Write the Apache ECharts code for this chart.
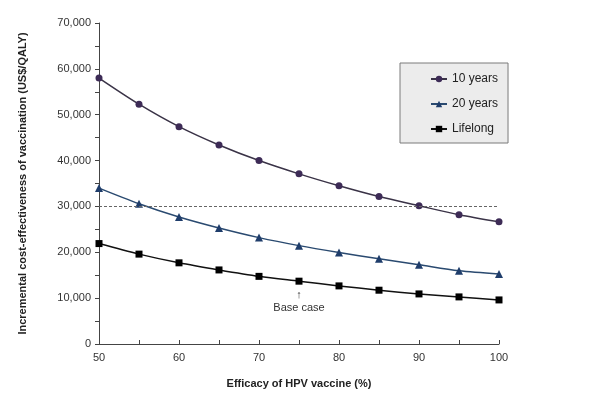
<!DOCTYPE html>
<html>
<head>
<meta charset="utf-8">
<script src="https://cdn.jsdelivr.net/npm/echarts@6/dist/echarts.min.js"></script>
<style>html,body{margin:0;padding:0;background:#fff}#c{width:600px;height:401px}</style>
</head>
<body>
<div id="c"></div>
<script>
var efficacy = [50, 55, 60, 65, 70, 75, 80, 85, 90, 95, 100];
var tenYears = [58000, 52300, 47400, 43400, 40000, 37100, 34500, 32150, 30150, 28200, 26650];
var twentyYears = [34000, 30600, 27700, 25300, 23200, 21450, 19950, 18570, 17260, 15950, 15280];
var lifelong = [21900, 19600, 17700, 16150, 14750, 13700, 12670, 11730, 10920, 10270, 9610];
var thresholdValue = 30000;
var baseCaseX = 75;

function pairs(ys){ return efficacy.map(function(x,i){ return [x, ys[i]]; }); }
var F = 'Liberation Sans, Arial, sans-serif';
var chart = echarts.init(document.getElementById('c'), null, {renderer:'canvas'});
chart.setOption({
  animation:false,
  backgroundColor:'#fff',
  grid:{left:99, right:101, top:23, bottom:57},
  legend:{
    orient:'vertical', left:400, top:63, width:105, height:78,
    padding:[10,10,8,30], itemGap:13, itemWidth:16, itemHeight:8,
    backgroundColor:'#ececec', borderColor:'#7a7a7a', borderWidth:1,
    textStyle:{fontFamily:F, fontSize:12, color:'#222'},
    data:['10 years','20 years','Lifelong']
  },
  xAxis:{
    type:'value', min:50, max:100, interval:5,
    name:'Efficacy of HPV vaccine (%)', nameLocation:'middle', nameGap:34,
    nameTextStyle:{fontFamily:F, fontSize:11, fontWeight:'bold', color:'#222'},
    axisLine:{lineStyle:{color:'#444', width:1}},
    axisTick:{inside:true, length:4, lineStyle:{color:'#444'}},
    axisLabel:{fontFamily:F, fontSize:11, color:'#333', margin:8,
      formatter:function(v){ return v % 10 === 0 ? String(v) : ''; }},
    splitLine:{show:false}
  },
  yAxis:{
    type:'value', min:0, max:70000, interval:5000,
    name:'Incremental cost-effectiveness of vaccination (US$/QALY)', nameLocation:'middle', nameGap:71,
    nameTextStyle:{fontFamily:F, fontSize:11, fontWeight:'bold', color:'#222'},
    axisLine:{show:true, lineStyle:{color:'#444', width:1}},
    axisTick:{show:true, inside:false, length:4, lineStyle:{color:'#444'}},
    axisLabel:{fontFamily:F, fontSize:11, color:'#333', margin:8,
      formatter:function(v){ return v % 10000 === 0 ? v.toLocaleString('en-US') : ''; }},
    splitLine:{show:false}
  },
  series:[
    {name:'10 years', type:'line', data:pairs(tenYears), smooth:0.3,
     symbol:'circle', symbolSize:7,
     lineStyle:{color:'#3a3347', width:1.5}, itemStyle:{color:'#3d2b56'},
     markLine:{silent:true, symbol:'none', label:{show:false},
       lineStyle:{color:'#666', type:[3,2], width:1},
       data:[{yAxis:thresholdValue}]}},
    {name:'20 years', type:'line', data:pairs(twentyYears), smooth:0.3,
     symbol:'triangle', symbolSize:8,
     lineStyle:{color:'#2a4a70', width:1.5}, itemStyle:{color:'#1f3d6b'}},
    {name:'Lifelong', type:'line', data:pairs(lifelong), smooth:0.3,
     symbol:'rect', symbolSize:7,
     lineStyle:{color:'#111', width:1.5}, itemStyle:{color:'#000'},
     markPoint:{silent:true, symbol:'circle', symbolSize:1,
       itemStyle:{color:'rgba(0,0,0,0)'},
       label:{show:true, position:'inside', formatter:'↑\nBase case', fontFamily:F, fontSize:11, color:'#333', lineHeight:13, offset:[0,20]},
       data:[{coord:[baseCaseX, lifelong[efficacy.indexOf(baseCaseX)]]}]}}
  ]
});
</script>
</body>
</html>
